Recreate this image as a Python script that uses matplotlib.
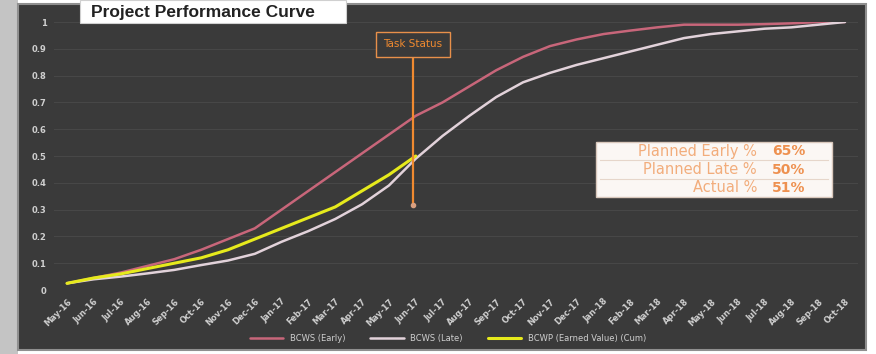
import matplotlib.pyplot as plt
import matplotlib.patches as patches
import numpy as np

# monthly labels
months = ["May-16", "Jun-16", "Jul-16", "Aug-16", "Sep-16", "Oct-16", "Nov-16", "Dec-16",
          "Jan-17", "Feb-17", "Mar-17", "Apr-17", "May-17", "Jun-17", "Jul-17", "Aug-17",
          "Sep-17", "Oct-17", "Nov-17", "Dec-17", "Jan-18", "Feb-18", "Mar-18", "Apr-18",
          "May-18", "Jun-18", "Jul-18", "Aug-18", "Sep-18", "Oct-18"]

# cumulative % values
bcws_early = [0.025, 0.045, 0.065, 0.09, 0.115, 0.15, 0.19, 0.23, 0.30, 0.37, 0.44, 0.51,
              0.58, 0.65, 0.70, 0.76, 0.82, 0.87, 0.91, 0.935, 0.955, 0.968, 0.98, 0.99,
              0.99, 0.99, 0.992, 0.995, 1.0, 1.0]
bcws_late = [0.025, 0.04, 0.05, 0.062, 0.075, 0.093, 0.11, 0.135, 0.18, 0.22, 0.265, 0.32,
             0.39, 0.49, 0.575, 0.65, 0.72, 0.775, 0.81, 0.84, 0.865, 0.89, 0.915, 0.94,
             0.955, 0.965, 0.975, 0.98, 0.99, 1.0]
bcwp_cum = [0.025, 0.045, 0.06, 0.08, 0.10, 0.12, 0.15, 0.19, 0.23, 0.27, 0.31, 0.37,
            0.43, 0.50]

status_idx = 12.9
status_label = "Task Status"
summary_labels = ["Planned Early %", "Planned Late %", "Actual %"]
summary_values = ["65%", "50%", "51%"]

W, H = 876, 354
fig = plt.figure(figsize=(W / 100, H / 100), dpi=100)
fig.patch.set_facecolor("white")

# light gray strip on the left edge of the screenshot
fig.patches.append(patches.Rectangle((0, 0), 18 / W, 1, transform=fig.transFigure,
                                     facecolor="#c4c4c4", edgecolor="none", zorder=-6))
# dark chart area (screenshot frame)
fig.patches.append(patches.Rectangle((18 / W, 4 / H), 848 / W, 346 / H,
                                     transform=fig.transFigure, facecolor="#3a3a3a",
                                     edgecolor="#8f8f8f", lw=1.5, zorder=-5))

ax = fig.add_axes([53.6 / W, 1 - 290 / H, 804.8 / W, 268 / H])
ax.patch.set_alpha(0)
for s in ax.spines.values():
    s.set_visible(False)

x = np.arange(len(months))
ax.plot(x, bcws_early, color="#c8667a", lw=1.8, label="BCWS (Early)", solid_capstyle="round")
ax.plot(x, bcws_late, color="#e2d2da", lw=1.8, label="BCWS (Late)", solid_capstyle="round")
ax.plot(x[:len(bcwp_cum)], bcwp_cum, color="#e6ea1c", lw=2.2,
        label="BCWP (Earned Value) (Cum)", solid_capstyle="round")

ax.set_xlim(-0.5, len(months) - 0.5)
ax.set_ylim(0, 1)
ax.set_yticks(np.arange(0, 1.01, 0.1))
ax.set_yticklabels(["0"] + ["%g" % v for v in np.arange(0.1, 0.95, 0.1).round(1)] + ["1"])
ax.set_xticks(x)
ax.set_xticklabels(months, rotation=45, ha="right", rotation_mode="anchor")
ax.tick_params(colors="#cfcfcf", labelsize=6, length=0, pad=5)
for t in ax.get_xticklabels() + ax.get_yticklabels():
    t.set_fontweight("bold")
ax.grid(axis="y", color="#474747", lw=0.8)
ax.set_axisbelow(True)

# task status marker
ax.plot([status_idx, status_idx], [0.317, 0.88], color="#f08a30", lw=1.6, zorder=5)
ax.plot(status_idx, 0.317, "o", color="#d9a080", ms=3, zorder=6)
ax.text(status_idx, 0.917, status_label, ha="center", va="center", fontsize=7.5,
        color="#f08a30", zorder=6,
        bbox=dict(boxstyle="square,pad=0.7", fc="#3a3a3a", ec="#e8904a", lw=1))

# summary table box
bx0, bx1, by_top, by_bot = 596, 832, 142, 197
fig.patches.append(patches.Rectangle((bx0 / W, 1 - by_bot / H), (bx1 - bx0) / W,
                                     (by_bot - by_top) / H, transform=fig.transFigure,
                                     facecolor="#fbf7f4", edgecolor="#d9c8bc", lw=1, zorder=3))
row_h = (by_bot - by_top) / 3
for i, (lab, val) in enumerate(zip(summary_labels, summary_values)):
    yc = by_top + row_h * (i + 0.5)
    fig.text(757 / W, 1 - yc / H, lab, ha="right", va="center", fontsize=10.5,
             color="#f2ad7c", zorder=4)
    fig.text(772 / W, 1 - yc / H, val, ha="left", va="center", fontsize=10,
             color="#ee9150", fontweight="bold", zorder=4)
    if i > 0:
        yl = 1 - (by_top + row_h * i) / H
        fig.add_artist(plt.Line2D([(bx0 + 4) / W, (bx1 - 4) / W], [yl, yl],
                                  transform=fig.transFigure, color="#e6d6ca", lw=0.8, zorder=4))

# title box
fig.patches.append(patches.Rectangle((80 / W, 1 - 23 / H), 266 / W, 23 / H,
                                     transform=fig.transFigure, facecolor="white",
                                     edgecolor="#d0d0d0", lw=0.8, zorder=3))
fig.text(91 / W, 1 - 12 / H, "Project Performance Curve", ha="left", va="center",
         fontsize=12.5, fontweight="bold", color="#222222", family="Liberation Sans", zorder=4)

leg = ax.legend(loc="center", bbox_to_anchor=(0.49, -0.18), ncol=3, frameon=False,
                fontsize=6, handlelength=4, columnspacing=3)
for t in leg.get_texts():
    t.set_color("#cfcfcf")

fig.savefig("out.png", dpi=100)
